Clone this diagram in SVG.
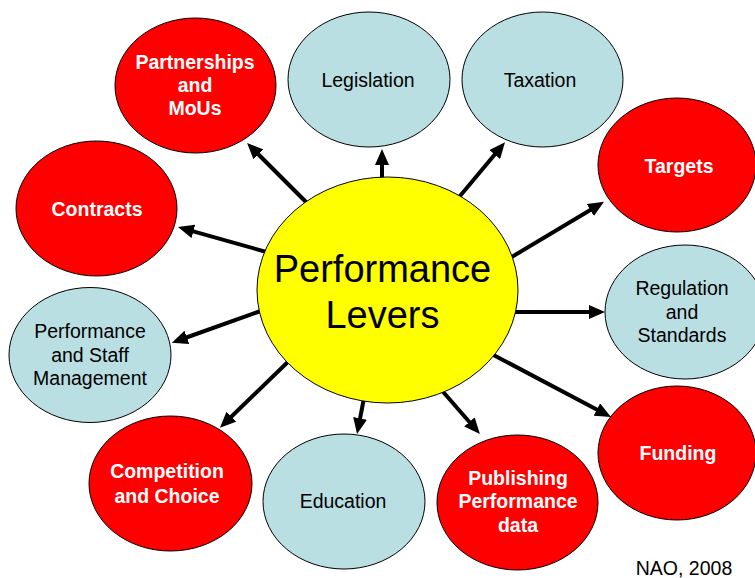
<svg xmlns="http://www.w3.org/2000/svg" width="755" height="578" viewBox="0 0 755 578">
<style>
.red{fill:#FF0000;stroke:#000;stroke-width:1}
.blue{fill:#B9DFE3;stroke:#000;stroke-width:1}
.yel{fill:#FFFF00;stroke:#000;stroke-width:1}
text{font-family:"Liberation Sans",Arial,sans-serif;font-size:19.5px;text-anchor:middle}
.w{fill:#fff;font-weight:bold}
.k{fill:#000}
.conn line{stroke:#000;stroke-width:4;marker-end:url(#ah)}
</style>
<defs>
<marker id="ah" markerUnits="userSpaceOnUse" markerWidth="16" markerHeight="14" refX="2" refY="7" orient="auto" viewBox="0 0 16 14">
<path d="M0,0 L16,7 L0,14 z" fill="#000"/>
</marker>
</defs>
<rect width="755" height="578" fill="#fff"/>
<g id="connectors" class="conn">
<line x1="382" y1="190" x2="382" y2="163"/>
<line x1="310" y1="206" x2="257" y2="153"/>
<line x1="455" y1="202" x2="496" y2="153"/>
<line x1="505" y1="261" x2="592" y2="209"/>
<line x1="270" y1="253" x2="191.5" y2="230.8"/>
<line x1="266" y1="309" x2="185" y2="338"/>
<line x1="510" y1="312" x2="591" y2="312"/>
<line x1="486" y1="351" x2="598.6" y2="410.5"/>
<line x1="294" y1="356" x2="230" y2="418"/>
<line x1="364" y1="398" x2="359.7" y2="420.3"/>
<line x1="438" y1="386" x2="470.7" y2="423.5"/>
</g>
<g id="center">
<ellipse class="yel" cx="387.5" cy="290" rx="130.5" ry="113"/>
<text class="k" x="382.5" y="282" style="font-size:38px">Performance</text>
<text class="k" x="382.5" y="328" style="font-size:38px">Levers</text>
</g>
<g id="partnerships">
<ellipse class="red" cx="195.5" cy="85.5" rx="80.5" ry="67.5"/>
<text class="w" x="195" y="69">Partnerships</text>
<text class="w" x="195" y="92">and</text>
<text class="w" x="195" y="115">MoUs</text>
</g>
<g id="legislation">
<ellipse class="blue" cx="369" cy="79.5" rx="81" ry="67.5"/>
<text class="k" x="368" y="87">Legislation</text>
</g>
<g id="taxation">
<ellipse class="blue" cx="542.5" cy="79.5" rx="80.5" ry="67.5"/>
<text class="k" x="540" y="87">Taxation</text>
</g>
<g id="targets">
<ellipse class="red" cx="677" cy="165" rx="79" ry="67"/>
<text class="w" x="679" y="173">Targets</text>
</g>
<g id="contracts">
<ellipse class="red" cx="96.5" cy="208.5" rx="80.5" ry="67.5"/>
<text class="w" x="97" y="216">Contracts</text>
</g>
<g id="staff">
<ellipse class="blue" cx="90" cy="355" rx="81" ry="67.5"/>
<text class="k" x="90" y="338">Performance</text>
<text class="k" x="90" y="362">and Staff</text>
<text class="k" x="90" y="385">Management</text>
</g>
<g id="regulation">
<ellipse class="blue" cx="685" cy="312" rx="80" ry="67"/>
<text class="k" x="682" y="295">Regulation</text>
<text class="k" x="682" y="319">and</text>
<text class="k" x="682" y="342">Standards</text>
</g>
<g id="funding">
<ellipse class="red" cx="677" cy="453" rx="79" ry="67"/>
<text class="w" x="678" y="460">Funding</text>
</g>
<g id="publishing">
<ellipse class="red" cx="517.5" cy="502.5" rx="80.5" ry="67.5"/>
<text class="w" x="518" y="485">Publishing</text>
<text class="w" x="518" y="508">Performance</text>
<text class="w" x="518" y="532">data</text>
</g>
<g id="education">
<ellipse class="blue" cx="344" cy="501.5" rx="81" ry="67.5"/>
<text class="k" x="343" y="508">Education</text>
</g>
<g id="competition">
<ellipse class="red" cx="170.5" cy="483.5" rx="81.5" ry="67.5"/>
<text class="w" x="167" y="478">Competition</text>
<text class="w" x="167" y="503">and Choice</text>
</g>
<text class="k" x="684" y="575">NAO, 2008</text>
</svg>
